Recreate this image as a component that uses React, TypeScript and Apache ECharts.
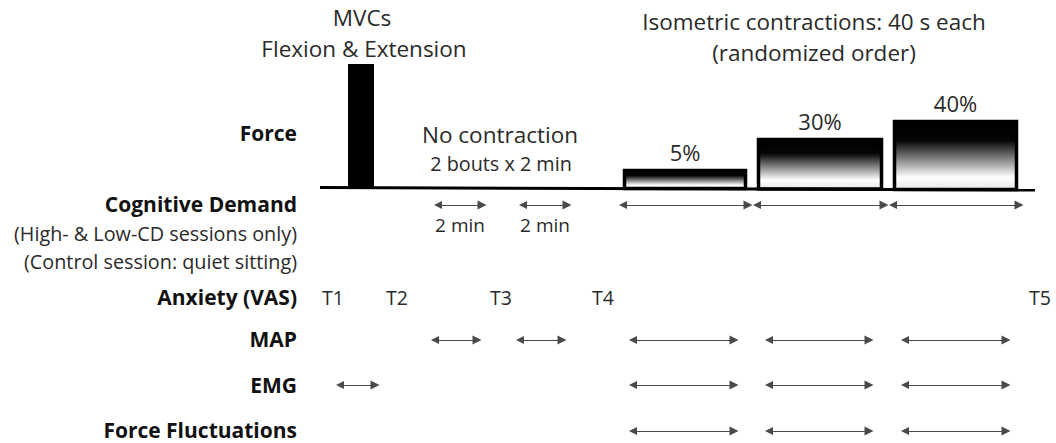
import React, { useEffect, useRef } from "react";
import * as echarts from "echarts";

// ---- Diagram content (timeline units = horizontal position in the protocol) ----
const rowLabels = ["Force", "Cognitive Demand", "Anxiety (VAS)", "MAP", "EMG", "Force Fluctuations"];
const rowNotes = ["(High- & Low-CD sessions only)", "(Control session: quiet sitting)"];
const vasLabels = ["T1", "T2", "T3", "T4", "T5"];
const vasTimes = [333, 397, 501, 603, 1040];

// force blocks: [start, end, top level]
const mvcBlock = [348, 374, 64];
const contractionLabels = ["5%", "30%", "40%"];
const contractionStart = [623, 757, 893];
const contractionEnd = [747, 883, 1018];
const contractionTop = [169, 138, 120];

// rest bouts (2 min each)
const restStart = [438, 523];
const restEnd = [482, 567];
const restLabels = ["2 min", "2 min"];

// measurement windows during contractions
const measureStart = [633, 769, 905];
const measureEnd = [734, 869, 1006];
const emgMvcWindow = [340, 375];

// ---- layout (pixels) ----
const W = 1056;
const H = 443;
const baseY0 = 187.5;
const baseY1 = 190;
const baseX0 = 320;
const baseX1 = 1035;
const rowY = [133, 204, 297, 339, 385, 430];
const noteY = [233, 261];
const labelRight = 297;
const FONT = "'Open Sans', sans-serif";
const TXT = "#2a2a2a";

function baseAt(x: number) {
  return baseY0 + ((x - baseX0) / (baseX1 - baseX0)) * (baseY1 - baseY0);
}

type TextItem = { text: string; x: number; y: number; align: string; size: number; bold?: boolean };

export default function App() {
  const ref = useRef<HTMLDivElement>(null);
  useEffect(() => {
    document.body.style.margin = "0";
    const chart = echarts.init(ref.current!, null, { renderer: "svg" });

    const texts: TextItem[] = [];
    rowLabels.forEach((t, i) => texts.push({ text: t, x: labelRight, y: rowY[i], align: "right", size: 21, bold: true }));
    rowNotes.forEach((t, i) => texts.push({ text: t, x: labelRight, y: noteY[i], align: "right", size: 19.8 }));
    vasLabels.forEach((t, i) => texts.push({ text: t, x: vasTimes[i], y: 297, align: "center", size: 19.5 }));
    contractionLabels.forEach((t, i) => {
      const c = (contractionStart[i] + contractionEnd[i]) / 2;
      texts.push({ text: t, x: c, y: contractionTop[i] - 17, align: "center", size: 22 });
    });
    restLabels.forEach((t, i) => {
      texts.push({ text: t, x: (restStart[i] + restEnd[i]) / 2, y: 225, align: "center", size: 19 });
    });
    texts.push({ text: "MVCs", x: 362, y: 17, align: "center", size: 22.5 });
    texts.push({ text: "Flexion & Extension", x: 364, y: 48, align: "center", size: 22.5 });
    texts.push({ text: "No contraction", x: 500, y: 134, align: "center", size: 22.5 });
    texts.push({ text: "2 bouts x 2 min", x: 501, y: 163, align: "center", size: 19.8 });
    texts.push({ text: "Isometric contractions: 40 s each", x: 814, y: 21, align: "center", size: 22.5 });
    texts.push({ text: "(randomized order)", x: 814, y: 52, align: "center", size: 22.5 });

    // arrows
    const arrows: number[][][] = [];
    for (let i = 0; i < 3; i++) arrows.push([[contractionStart[i], 205], [contractionEnd[i] + 1, 205]]);
    for (let i = 0; i < 2; i++) arrows.push([[restStart[i], 205], [restEnd[i], 205]]);
    for (let i = 0; i < 2; i++) arrows.push([[restStart[i] - 3, 340], [restEnd[i] - 5, 340]]);
    [340, 385, 431].forEach((y) => {
      for (let i = 0; i < 3; i++) arrows.push([[measureStart[i], y], [measureEnd[i], y]]);
    });
    arrows.push([[emgMvcWindow[0], 385], [emgMvcWindow[1], 385]]);

    const blocks = [
      { s: mvcBlock[0], e: mvcBlock[1], top: mvcBlock[2], solid: true },
      ...contractionStart.map((s, i) => ({ s, e: contractionEnd[i], top: contractionTop[i], solid: false })),
    ];

    const gradient = new echarts.graphic.LinearGradient(0, 0, 0, 1, [
      { offset: 0, color: "#000" },
      { offset: 0.28, color: "#050505" },
      { offset: 0.82, color: "#ffffff" },
      { offset: 1, color: "#e8e8e8" },
    ]);

    chart.setOption({
      animation: false,
      grid: { left: 0, right: 0, top: 0, bottom: 0 },
      xAxis: { type: "value", min: 0, max: W, show: false },
      yAxis: { type: "value", min: 0, max: H, inverse: true, show: false },
      series: [
        {
          type: "custom",
          clip: false,
          silent: true,
          data: blocks.map((b) => [b.s, b.e, b.top]),
          renderItem: (params: any, api: any) => {
            const b = blocks[params.dataIndex];
            const p0 = api.coord([b.s, b.top]);
            const p1 = api.coord([b.e, baseAt(b.e)]);
            if (b.solid) {
              return {
                type: "rect",
                shape: { x: p0[0], y: p0[1], width: p1[0] - p0[0], height: p1[1] - p0[1] },
                style: { fill: "#000" },
              };
            }
            return {
              type: "rect",
              shape: { x: p0[0] + 1.5, y: p0[1] + 1.5, width: p1[0] - p0[0] - 3, height: p1[1] - p0[1] - 2 },
              style: { fill: gradient, stroke: "#000", lineWidth: 3.5 },
            };
          },
        },
        {
          type: "lines",
          coordinateSystem: "cartesian2d",
          silent: true,
          data: [{ coords: [[baseX0, baseY0], [baseX1, baseY1]] }],
          lineStyle: { color: "#000", width: 3, opacity: 1 },
          symbol: ["none", "none"],
        },
        {
          type: "lines",
          coordinateSystem: "cartesian2d",
          silent: true,
          data: arrows.map((c) => ({ coords: c })),
          lineStyle: { color: "#4a4a4a", width: 1.2, opacity: 1 },
          symbol: ["triangle", "triangle"],
          symbolSize: [8, 9],
          itemStyle: { color: "#000" },
        },
        {
          type: "custom",
          clip: false,
          silent: true,
          data: texts.map((t) => [t.x, t.y]),
          renderItem: (params: any, api: any) => {
            const t = texts[params.dataIndex];
            const p = api.coord([api.value(0), api.value(1)]);
            return {
              type: "text",
              x: p[0],
              y: p[1],
              style: {
                text: t.text,
                fill: t.bold ? "#111" : TXT,
                fontSize: t.size,
                fontFamily: FONT,
                fontWeight: t.bold ? "bold" : "normal",
                align: t.align,
                verticalAlign: "middle",
              },
            };
          },
        },
      ],
    });
    return () => chart.dispose();
  }, []);
  return <div ref={ref} style={{ width: W, height: H }} />;
}
